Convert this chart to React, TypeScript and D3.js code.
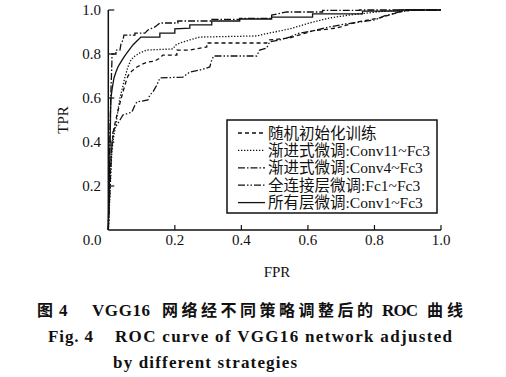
import React from "react";
import * as d3 from "d3";

type P = [number, number];

const randomInit: P[] = [[0,0],[0.002,0.114],[0.005,0.227],[0.008,0.318],[0.011,0.386],[0.017,0.464],[0.026,0.523],[0.035,0.577],[0.044,0.627],[0.053,0.673],[0.059,0.7],[0.071,0.723],[0.086,0.741],[0.104,0.755],[0.119,0.764],[0.14,0.768],[0.155,0.782],[0.164,0.795],[0.206,0.795],[0.206,0.818],[0.245,0.818],[0.296,0.832],[0.296,0.85],[0.476,0.85],[0.485,0.864],[0.545,0.873],[0.614,0.905],[0.686,0.918],[0.746,0.945],[0.815,0.964],[0.875,0.991],[0.905,1],[1,1]];

const conv11: P[] = [[0,0],[0.002,0.068],[0.005,0.159],[0.008,0.273],[0.011,0.364],[0.017,0.432],[0.023,0.477],[0.029,0.545],[0.035,0.6],[0.041,0.636],[0.05,0.695],[0.059,0.741],[0.068,0.773],[0.08,0.791],[0.095,0.805],[0.116,0.818],[0.194,0.823],[0.203,0.841],[0.215,0.85],[0.245,0.864],[0.275,0.877],[0.446,0.882],[0.47,0.891],[0.545,0.914],[0.605,0.941],[0.665,0.964],[0.725,0.977],[0.806,0.991],[0.875,1],[1,1]];

const conv4: P[] = [[0,0],[0.002,0.182],[0.005,0.455],[0.008,0.636],[0.011,0.773],[0.011,0.8],[0.023,0.8],[0.023,0.818],[0.035,0.818],[0.038,0.845],[0.044,0.864],[0.047,0.886],[0.08,0.886],[0.08,0.895],[0.11,0.895],[0.119,0.909],[0.14,0.923],[0.155,0.941],[0.209,0.941],[0.209,0.95],[0.311,0.95],[0.311,0.957],[0.395,0.957],[0.395,0.962],[0.491,0.962],[0.491,0.977],[0.536,0.991],[0.644,0.991],[0.644,0.998],[0.755,0.998],[0.755,1],[1,1]];

const fc1: P[] = [[0,0],[0.002,0.068],[0.005,0.182],[0.008,0.295],[0.011,0.386],[0.014,0.445],[0.02,0.468],[0.026,0.477],[0.035,0.5],[0.044,0.523],[0.071,0.536],[0.08,0.568],[0.086,0.582],[0.119,0.591],[0.125,0.614],[0.134,0.627],[0.146,0.659],[0.155,0.691],[0.224,0.695],[0.233,0.705],[0.245,0.718],[0.275,0.727],[0.305,0.741],[0.311,0.773],[0.317,0.791],[0.446,0.791],[0.455,0.818],[0.476,0.827],[0.485,0.855],[0.515,0.864],[0.545,0.877],[0.575,0.895],[0.614,0.905],[0.665,0.923],[0.71,0.936],[0.755,0.945],[0.8,0.955],[0.83,0.973],[0.875,0.991],[0.92,1],[1,1]];

const conv1: P[] = [[0,0],[0.002,0.136],[0.005,0.364],[0.007,0.545],[0.008,0.6],[0.011,0.636],[0.017,0.691],[0.023,0.718],[0.029,0.741],[0.038,0.764],[0.047,0.786],[0.056,0.805],[0.065,0.823],[0.074,0.841],[0.086,0.859],[0.098,0.877],[0.155,0.877],[0.155,0.895],[0.2,0.895],[0.2,0.914],[0.245,0.918],[0.245,0.932],[0.311,0.932],[0.311,0.95],[0.395,0.95],[0.395,0.959],[0.491,0.959],[0.491,0.968],[0.614,0.968],[0.614,0.982],[0.764,0.982],[0.764,0.995],[0.875,0.995],[0.875,1],[1,1]];

const seriesNamesCJK = ["随机初始化训练", "渐进式微调", "渐进式微调", "全连接层微调", "所有层微调"];
const seriesNamesLatin = ["", ":Conv11~Fc3", ":Conv4~Fc3", ":Fc1~Fc3", ":Conv1~Fc3"];
const seriesData = [randomInit, conv11, conv4, fc1, conv1];
const seriesDash = ["4,3", "1.3,1.7", "7,2,1.5,2", "7,2,1.5,2,1.5,2", "none"];

const xTicks = [0.2, 0.4, 0.6, 0.8, 1.0];
const yTicks = [0.2, 0.4, 0.6, 0.8, 1.0];

const SERIF = "'Liberation Serif', 'Times New Roman', serif";
const CJK = "'Noto Sans CJK SC', sans-serif";

export default function App() {
  const x = d3.scaleLinear().domain([0, 1]).range([108.3, 441]);
  const y = d3.scaleLinear().domain([0, 1]).range([230, 10]);
  const line = d3.line<P>().x(d => x(d[0])).y(d => y(d[1]));

  return (
    <svg width={506} height={377} style={{ position: "absolute", left: 0, top: 0, background: "#fff" }}
      fontFamily={SERIF}>
      <rect x={0} y={0} width={506} height={377} fill="#fff" />
      {seriesData.map((d, i) => (
        <path key={i} d={line(d) || ""} fill="none" stroke="#111" strokeWidth={1.3}
          strokeDasharray={seriesDash[i]} />
      ))}
      <line x1={x(0)} x2={x(0)} y1={y(0)} y2={y(1)} stroke="#111" strokeWidth={1.5} />
      <line x1={x(0)} x2={x(1)} y1={y(0)} y2={y(0)} stroke="#111" strokeWidth={1.5} />
      {xTicks.map(t => (
        <g key={"x" + t}>
          <line x1={x(t)} x2={x(t)} y1={y(0)} y2={y(0) - 5} stroke="#111" strokeWidth={1.2} />
          <text x={x(t)} y={245} fontSize={15} textAnchor="middle" fill="#111">{t.toFixed(1)}</text>
        </g>
      ))}
      {yTicks.map(t => (
        <g key={"y" + t}>
          <line x1={x(0)} x2={x(0) + 6} y1={y(t)} y2={y(t)} stroke="#111" strokeWidth={1.2} />
          <text x={101} y={y(t)} dy="0.35em" fontSize={15} textAnchor="end" fill="#111">{t.toFixed(1)}</text>
        </g>
      ))}
      <text x={92} y={245} fontSize={15} textAnchor="middle" fill="#111">0.0</text>
      <text x={277} y={277} fontSize={15} textAnchor="middle" fill="#111">FPR</text>
      <text transform="translate(68,120) rotate(-90)" fontSize={15} textAnchor="middle" fill="#111">TPR</text>

      <rect x={227} y={120} width={210} height={93} fill="#fff" stroke="#111" strokeWidth={1.5} />
      {seriesNamesCJK.map((lab, i) => {
        const cy = 133 + i * 17.4;
        return (
          <g key={i}>
            <line x1={238} x2={265} y1={cy} y2={cy} stroke="#111" strokeWidth={1.3} strokeDasharray={seriesDash[i]} />
            <text x={268} y={cy} dy="0.36em" fontSize={15.5} fill="#111">
              <tspan fontFamily={CJK}>{lab}</tspan>
              {seriesNamesLatin[i] ? <tspan fontFamily={SERIF}>{seriesNamesLatin[i]}</tspan> : null}
            </text>
          </g>
        );
      })}

      <g fontWeight="bold" fill="#111" fontSize={17}>
        <text x={37} y={316} fontFamily={CJK} fontSize={16}>图</text>
        <text x={59} y={316}>4</text>
        <text x={92} y={316} textLength={58} lengthAdjust="spacing">VGG16</text>
        <text x={162} y={316} textLength={211} lengthAdjust="spacing" fontFamily={CJK} fontSize={16}>网络经不同策略调整后的</text>
        <text x={382} y={316} textLength={36} lengthAdjust="spacing">ROC</text>
        <text x={427} y={316} textLength={36} lengthAdjust="spacing" fontFamily={CJK} fontSize={16}>曲线</text>
        <text x={48} y={342} textLength={45} lengthAdjust="spacing">Fig. 4</text>
        <text x={115} y={342} textLength={337} lengthAdjust="spacing">ROC curve of VGG16 network adjusted</text>
        <text x={113} y={368} textLength={184} lengthAdjust="spacing">by different strategies</text>
      </g>
    </svg>
  );
}
